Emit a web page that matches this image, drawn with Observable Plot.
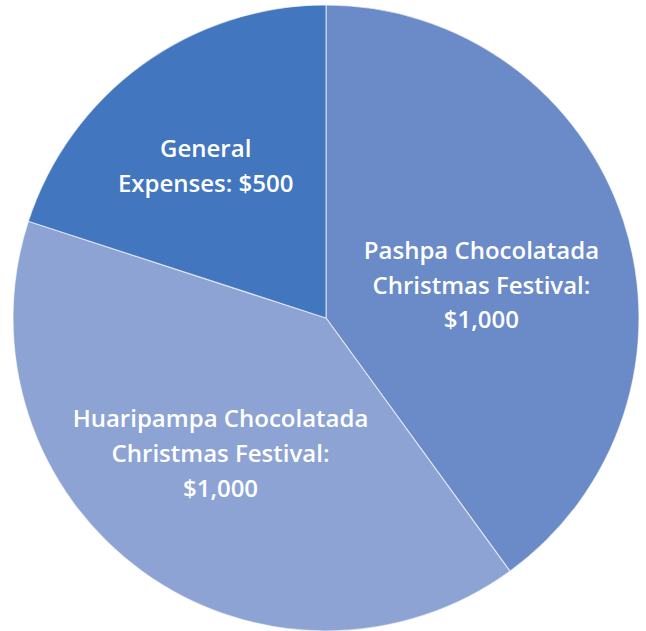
<!DOCTYPE html>
<html>
<head>
<meta charset="utf-8">
<script src="https://cdn.jsdelivr.net/npm/d3@7"></script>
<script src="https://cdn.jsdelivr.net/npm/@observablehq/plot@0.6"></script>
<style>
  html, body { margin: 0; padding: 0; background: #fff; }
  #chart svg { display: block; }
</style>
</head>
<body>
<div id="chart"></div>
<script>
// ---- data ----
const categories = [
  "Pashpa Chocolatada Christmas Festival",
  "Huaripampa Chocolatada Christmas Festival",
  "General Expenses"
];
const amounts = [1000, 1000, 500];
const labelTexts = [
  "Pashpa Chocolatada\nChristmas Festival:\n$1,000",
  "Huaripampa Chocolatada\nChristmas Festival:\n$1,000",
  "General\nExpenses: $500"
];
const sliceColors = ["#6A8AC8", "#8CA3D4", "#4276BF"];

// ---- layout (label placement: radial fraction + angle nudge, like Excel "best fit") ----
const labelRadius = [0.506, 0.55, 0.62];
const labelAngleShift = [6, 2, -2.5]; // degrees

// ---- build table ----
const data = categories.map((c, i) => ({category: c, value: amounts[i], label: labelTexts[i]}));
const arcs = d3.pie().sort(null).value(d => d.value)(data);
const labelData = arcs.map((a, i) => {
  const mid = (a.startAngle + a.endAngle) / 2 + labelAngleShift[i] * Math.PI / 180;
  const f = labelRadius[i];
  return {label: a.data.label, x: f * Math.sin(mid), y: f * Math.cos(mid)};
});
const colorOf = d3.scaleOrdinal(categories, sliceColors);

const W = 646, H = 631, cx = 326, cy = 318, R = 313;

function slices(index, scales) {
  const {x, y} = scales;
  const r = (x(1) - x(-1)) / 2;
  const g = d3.create("svg:g").attr("transform", `translate(${x(0)},${y(0)})`);
  const arc = d3.arc().innerRadius(0).outerRadius(r);
  g.selectAll("path")
    .data(arcs)
    .join("path")
    .attr("d", arc)
    .attr("fill", d => colorOf(d.data.category))
    .attr("stroke", "#ffffff")
    .attr("stroke-opacity", 0.6)
    .attr("stroke-width", 1.2)
    .attr("stroke-linejoin", "round");
  return g.node();
}

const chart = Plot.plot({
  width: W,
  height: H,
  margin: 0,
  style: {background: "#ffffff"},
  x: {domain: [-1, 1], range: [cx - R, cx + R], axis: null},
  y: {domain: [-1, 1], range: [cy + R, cy - R], axis: null},
  marks: [
    slices,
    Plot.text(labelData, {
      x: "x",
      y: "y",
      text: "label",
      fill: "white",
      fontSize: 24,
      fontWeight: 600,
      fontFamily: "Open Sans",
      lineHeight: 1.45,
      textAnchor: "middle",
      lineAnchor: "middle",
      dy: -3
    })
  ]
});
document.getElementById("chart").appendChild(chart);
</script>
</body>
</html>
